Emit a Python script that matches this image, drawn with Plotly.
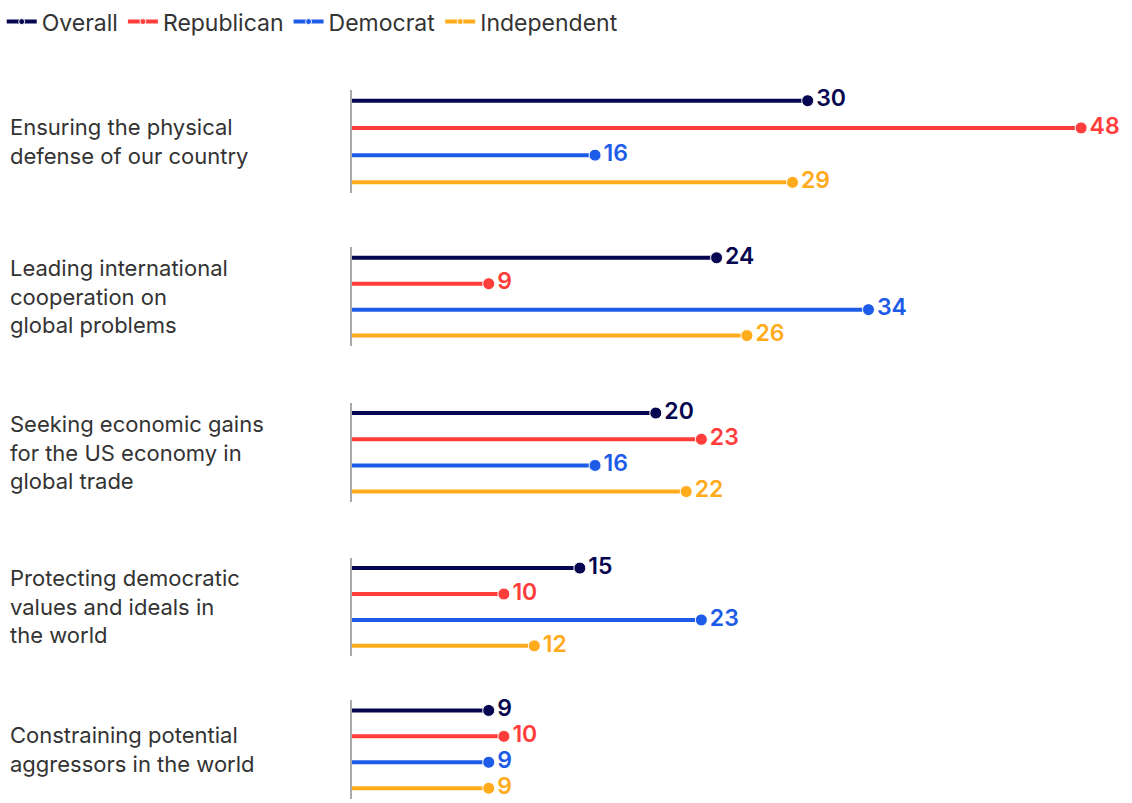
import plotly.graph_objects as go

# --- data ---
categories = [
    "Ensuring the physical<br>defense of our country",
    "Leading international<br>cooperation on<br>global problems",
    "Seeking economic gains<br>for the US economy in<br>global trade",
    "Protecting democratic<br>values and ideals in<br>the world",
    "Constraining potential<br>aggressors in the world",
]
series_names = ["Overall", "Republican", "Democrat", "Independent"]
overall = [30, 24, 20, 15, 9]
republican = [48, 9, 23, 10, 10]
democrat = [16, 34, 16, 23, 9]
independent = [29, 26, 22, 12, 9]

colors = ["#05064f", "#ff3e3b", "#1d5ce8", "#ffab1c"]
values = [overall, republican, democrat, independent]

# pixel geometry (canvas 1132 x 803)
W, H = 1132, 803
LEFT = 351.5
# (top, bottom) pixel of each group's band
group_px = [(79, 184), (239, 339), (396.5, 497.5), (554, 654), (698.5, 798.5)]

FONT = "Inter, Lato, sans-serif"

fig = go.Figure()

for g, cat in enumerate(categories):
    ax = "" if g == 0 else str(g + 1)
    for s, name in enumerate(series_names):
        v = values[s][g]
        fig.add_trace(
            go.Scatter(
                x=[0, v],
                y=[s, s],
                mode="lines+markers+text",
                line=dict(color=colors[s], width=4),
                marker=dict(size=[0, 12], color=colors[s], opacity=1),
                text=["", str(v)],
                textposition="middle right",
                textfont=dict(family=FONT, size=23, color=colors[s], weight=600),
                cliponaxis=False,
                name=name,
                legendgroup=name,
                showlegend=(g == 0),
                hoverinfo="skip",
                xaxis="x" + ax,
                yaxis="y" + ax,
            )
        )

layout = dict(
    width=W,
    height=H,
    margin=dict(l=LEFT, r=0, t=0, b=0),
    paper_bgcolor="white",
    plot_bgcolor="white",
    showlegend=True,
    legend=dict(
        orientation="h",
        x=-(LEFT - 1) / (W - LEFT),
        xanchor="left",
        y=1.015,
        yanchor="top",
        font=dict(family=FONT, size=23, color="#333333"),
        itemwidth=30,
        tracegroupgap=0,
    ),
    annotations=[],
)

for g, cat in enumerate(categories):
    top, bot = group_px[g]
    key = "" if g == 0 else str(g + 1)
    layout["xaxis" + key] = dict(
        domain=[0, 1],
        range=[0, 51.35],
        visible=False,
        anchor="y" + key,
    )
    layout["yaxis" + key] = dict(
        domain=[1 - bot / H, 1 - top / H],
        range=[3.4, -0.4],
        showline=True,
        linecolor="#aaaaaa",
        linewidth=1.5,
        showticklabels=False,
        showgrid=False,
        zeroline=False,
        ticks="",
        anchor="x" + key,
        fixedrange=True,
    )
    layout["annotations"].append(
        dict(
            text=cat,
            xref="paper",
            yref="paper",
            x=-(LEFT - 7) / (W - LEFT),
            y=1 - (top + bot) / 2 / H,
            xanchor="left",
            yanchor="middle",
            align="left",
            showarrow=False,
            font=dict(family=FONT, size=22, color="#333333"),
        )
    )

fig.update_layout(**layout)

# page body has a default 8px margin; drop it so the figure sits at 0,0
fig.write_html(
    "out.html",
    config={"displayModeBar": False},
    post_script="document.body.style.margin='0';",
)
